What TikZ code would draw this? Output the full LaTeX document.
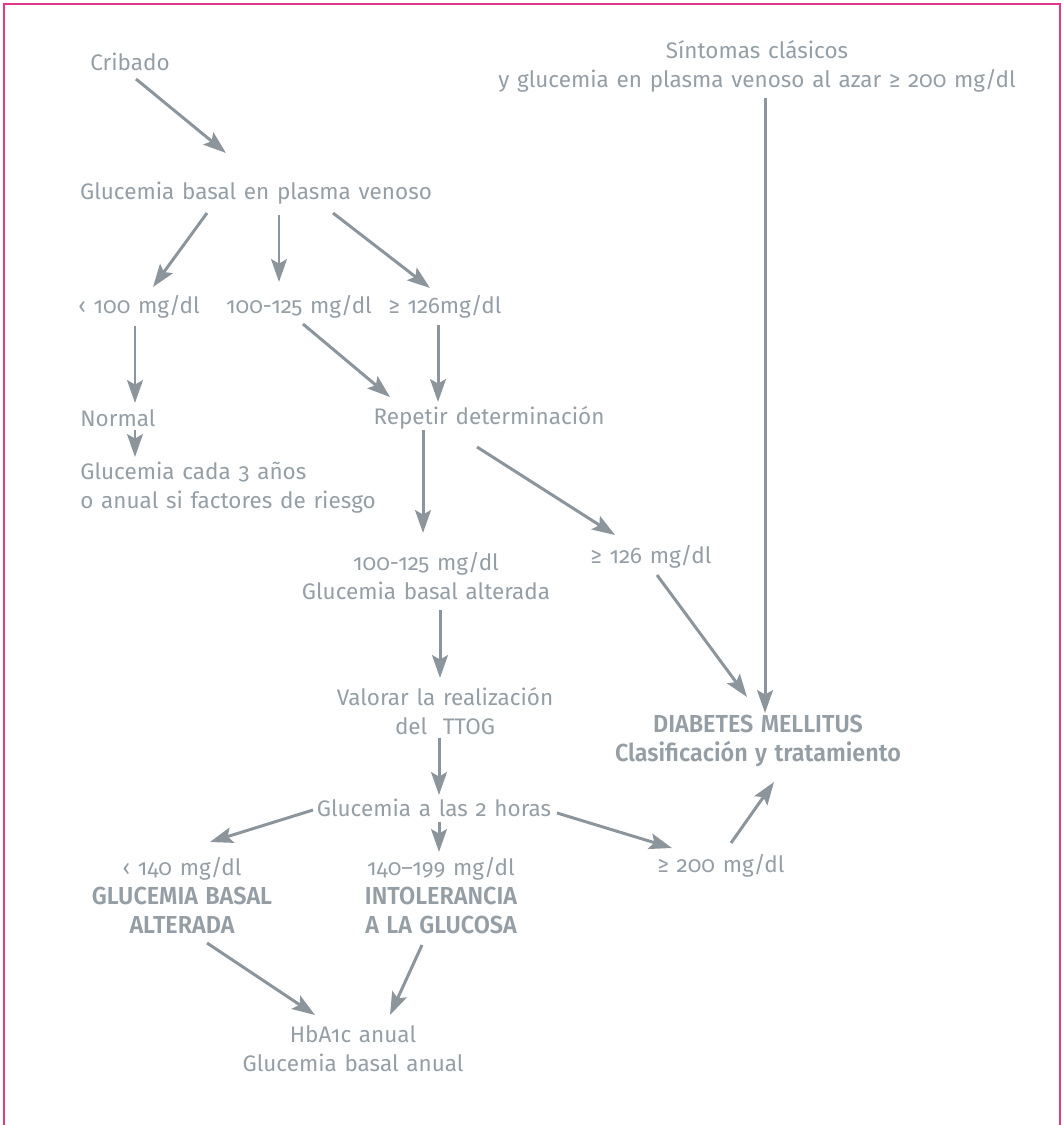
\documentclass[tikz,border=0pt]{standalone}
\usepackage{fontspec}
\setmainfont{Fira Sans}[Numbers=OldStyle, WordSpace=1.3,
  BoldFont=* SemiBold, BoldFeatures={FakeStretch=0.95}]
\usetikzlibrary{arrows.meta,calc}
\definecolor{textgray}{HTML}{959EA5}
\definecolor{linegray}{HTML}{8C959C}
\definecolor{framecolor}{HTML}{E0398C}
\newcommand{\headline}[1]{{\fontsize{14}{16.5}\selectfont\bfseries #1}}
\tikzset{
  txt/.style={
    text=textgray,
    inner sep=0pt,
    align=center,
    font=\fontsize{12.8}{16.5}\selectfont
  },
  link/.style={
    draw=linegray,
    line width=1.7pt,
    -{Stealth[length=13pt,width=9pt,inset=2.5pt]}
  },
  frame/.style={draw=framecolor, line width=1.3pt}
}

\begin{document}
\begin{tikzpicture}[x=0.02cm, y=-0.02cm]
  \useasboundingbox (0,0) rectangle (1064,1125);
  \draw[frame] (4,1130) -- (4,4) -- (1060,4) -- (1060,1130);

  \node[txt] (crib) at (130,62) {Cribado};
  \node[txt] (sint) at (757,66.5)
    {Síntomas clásicos\\y glucemia en plasma venoso al azar ≥ 200 mg/dl};
  \node[txt] (gb) at (256,193) {Glucemia basal en plasma venoso};

  \node[txt] (lt100) at (139,307) {‹ 100 mg/dl};
  \node[txt] (r100) at (299,307) {100-125 mg/dl};
  \node[txt] (ge126) at (445,307) {≥ 126mg/dl};

  \node[txt, anchor=west] (normal) at (80,418) {Normal};
  \node[txt, anchor=west, align=left] (cada) at (80,487.5)
    {Glucemia cada 3 años\\o anual si factores de riesgo};
  \node[txt] (rep) at (489,418) {Repetir determinación};

  \node[txt] (alt) at (426,576) {100-125 mg/dl\\Glucemia basal alterada};
  \node[txt] (ge126b) at (651,557) {≥ 126 mg/dl};
  \node[txt] (val) at (445,711) {Valorar la realización\\del\ \ TTOG};
  \node[txt] (dm) at (758,741)
    {\headline{DIABETES MELLITUS}\\\headline{Clasificación y tratamiento}};

  \node[txt] (twoh) at (434,808) {Glucemia a las 2 horas};
  \node[txt] (lt140) at (182,895.5)
    {‹ 140 mg/dl\\\headline{GLUCEMIA BASAL}\\\headline{ALTERADA}};
  \node[txt] (intol) at (441,895.5)
    {140–199 mg/dl\\\headline{INTOLERANCIA}\\\headline{A LA GLUCOSA}};
  \node[txt] (ge200) at (721,866) {≥ 200 mg/dl};
  \node[txt] (hba) at (353,1049) {HbA1c anual\\Glucemia basal anual};

  \draw[link] ($(crib)+(6,17)$) -- ($(gb)+(-30,-40)$);
  \draw[link] ($(gb)+(-49,20)$) -- ($(lt100)+(14,-20)$);
  \draw[link] ($(gb)+(23,22)$) -- ($(r100)+(-20,-25)$);
  \draw[link] ($(gb)+(77,20)$) -- ($(ge126)+(-15,-19)$);

  \draw[link] ($(lt100)+(-4,19)$) -- ($(normal.west)+(55,-15)$);
  \draw[link] ($(normal.west)+(55,12)$) -- ($(cada.west)+(55,-30.5)$);
  \draw[link] ($(r100)+(4,17)$) -- ($(rep)+(-99,-21)$);
  \draw[link] ($(ge126)+(-7,18)$) -- ($(rep)+(-51,-16)$);

  \draw[link] ($(sint)+(8,31.5)$) -- ($(dm)+(7,-28)$);
  \draw[link] ($(rep)+(-66,12)$) -- ($(alt)+(-3,-43)$);
  \draw[link] ($(rep)+(-12,29)$) -- ($(ge126b)+(-36,-22)$);
  \draw[link] ($(ge126b)+(6,18)$) -- ($(dm)+(-11,-44)$);
  \draw[link] ($(alt)+(14,34)$) -- ($(val)+(-5,-33)$);
  \draw[link] ($(val)+(-6,27)$) -- ($(twoh)+(5,-13)$);

  \draw[link] ($(twoh)+(-121,2)$) -- ($(lt140)+(28,-53.5)$);
  \draw[link] ($(twoh)+(5,14)$) -- ($(intol)+(-2,-43.5)$);
  \draw[link] ($(twoh)+(123,5)$) -- ($(ge200)+(-49,-18)$);
  \draw[link] ($(ge200)+(10,-23)$) -- ($(dm)+(16,41)$);
  \draw[link] ($(lt140)+(25,47.5)$) -- ($(hba)+(-38,-34)$);
  \draw[link] ($(intol)+(-19,49.5)$) -- ($(hba)+(37,-34)$);
\end{tikzpicture}
\end{document}
